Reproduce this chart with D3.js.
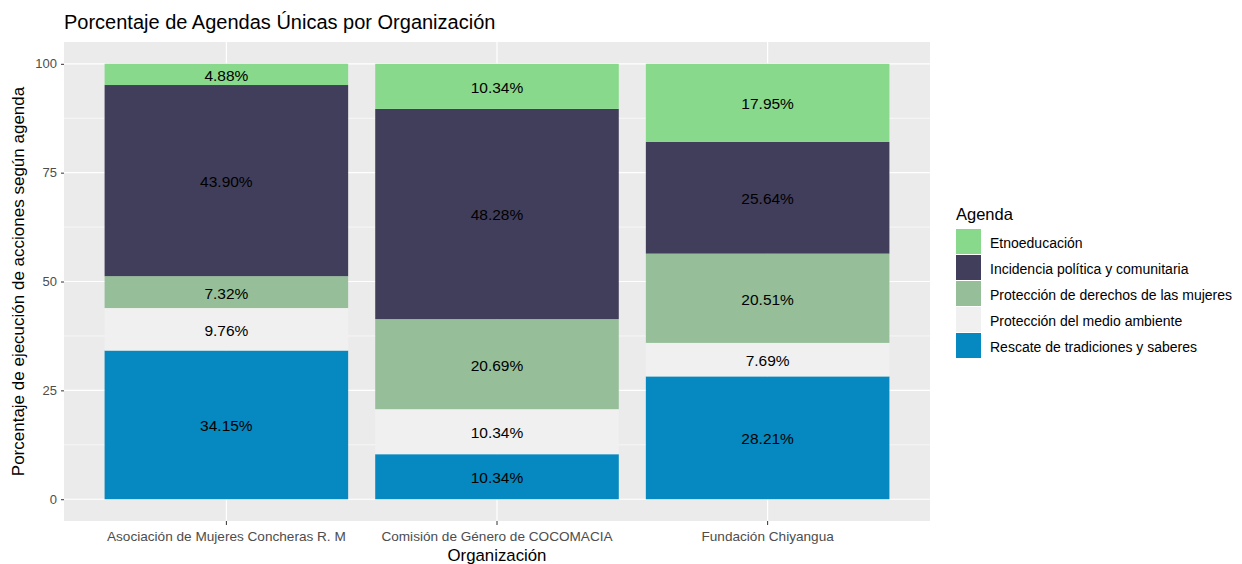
<!DOCTYPE html>
<html>
<head>
<meta charset="utf-8">
<script src="https://cdn.jsdelivr.net/npm/d3@7"></script>
<style>
  body { margin: 0; background: #fff; }
  svg { font-family: "Liberation Sans", Arial, sans-serif; }
</style>
</head>
<body>
<svg id="chart"></svg>
<script>
// data
const organizaciones = [
  "Asociación de Mujeres Concheras R. M",
  "Comisión de Género de COCOMACIA",
  "Fundación Chiyangua"
];
const agendas = [
  "Etnoeducación",
  "Incidencia política y comunitaria",
  "Protección de derechos de las mujeres",
  "Protección del medio ambiente",
  "Rescate de tradiciones y saberes"
];
const etnoeducacion = [4.88, 10.34, 17.95];
const incidencia = [43.90, 48.28, 25.64];
const derechos = [7.32, 20.69, 20.51];
const medioAmbiente = [9.76, 10.34, 7.69];
const rescate = [34.15, 10.34, 28.21];
const yTicks = [0, 25, 50, 75, 100];
const colores = ["#88d98b", "#413e5b", "#96bf99", "#f0f0f0", "#0589c0"];

const width = 1242, height = 564;
const panel = { left: 64, top: 42, right: 930, bottom: 521 };

const svg = d3.select("#chart").attr("width", width).attr("height", height);

// build rows for stacking
const rows = organizaciones.map((o, i) => ({
  org: o,
  [agendas[0]]: etnoeducacion[i],
  [agendas[1]]: incidencia[i],
  [agendas[2]]: derechos[i],
  [agendas[3]]: medioAmbiente[i],
  [agendas[4]]: rescate[i]
}));

// bottom first: Rescate, Medio, Derechos, Incidencia, Etno
const stackKeys = agendas.slice().reverse();
const series = d3.stack().keys(stackKeys)(rows);

const color = d3.scaleOrdinal().domain(agendas).range(colores);

// ggplot: bar width 0.9, 0.6 expansion on each side
const x = d3.scaleBand()
  .domain(organizaciones)
  .range([panel.left, panel.right])
  .paddingInner(0.1)
  .paddingOuter(0.15);

const ymax = d3.max(series[series.length - 1], d => d[1]);
const pad = ymax * 0.05;
const y = d3.scaleLinear()
  .domain([-pad, ymax + pad])
  .range([panel.bottom, panel.top]);

// panel background
svg.append("rect")
  .attr("x", panel.left).attr("y", panel.top)
  .attr("width", panel.right - panel.left)
  .attr("height", panel.bottom - panel.top)
  .attr("fill", "#ebebeb");

// minor grid
const minor = d3.range(12.5, 100, 25);
svg.append("g").selectAll("line").data(minor).join("line")
  .attr("x1", panel.left).attr("x2", panel.right)
  .attr("y1", d => y(d)).attr("y2", d => y(d))
  .attr("stroke", "#fff").attr("stroke-width", 0.6);

// major grid
svg.append("g").selectAll("line").data(yTicks).join("line")
  .attr("x1", panel.left).attr("x2", panel.right)
  .attr("y1", d => y(d)).attr("y2", d => y(d))
  .attr("stroke", "#fff").attr("stroke-width", 1.2);

svg.append("g").selectAll("line").data(organizaciones).join("line")
  .attr("x1", d => x(d) + x.bandwidth() / 2).attr("x2", d => x(d) + x.bandwidth() / 2)
  .attr("y1", panel.top).attr("y2", panel.bottom)
  .attr("stroke", "#fff").attr("stroke-width", 1.2);

// bars
const layers = svg.append("g").selectAll("g").data(series).join("g")
  .attr("fill", d => color(d.key));

layers.selectAll("rect").data(d => d).join("rect")
  .attr("x", d => x(d.data.org))
  .attr("width", x.bandwidth())
  .attr("y", d => y(d[1]))
  .attr("height", d => y(d[0]) - y(d[1]));

// segment labels
layers.selectAll("text").data(d => d).join("text")
  .attr("x", d => x(d.data.org) + x.bandwidth() / 2)
  .attr("y", d => y((d[0] + d[1]) / 2))
  .attr("dy", "0.42em")
  .attr("text-anchor", "middle")
  .attr("fill", "#000")
  .attr("font-size", 15.5)
  .text(d => (d[1] - d[0]).toFixed(2) + "%");

// y axis
const yAxis = svg.append("g")
  .attr("transform", `translate(${panel.left},0)`)
  .call(d3.axisLeft(y).tickValues(yTicks).tickSize(3).tickPadding(4));
yAxis.select(".domain").remove();
yAxis.selectAll("line").attr("stroke", "#333");
yAxis.selectAll("text").attr("fill", "#4d4d4d").attr("font-size", 13)
  .attr("font-family", "Liberation Sans, Arial, sans-serif");

// x axis
const xAxis = svg.append("g")
  .attr("transform", `translate(0,${panel.bottom})`)
  .call(d3.axisBottom(x).tickSize(4).tickPadding(6));
xAxis.select(".domain").remove();
xAxis.selectAll("line").attr("stroke", "#333");
xAxis.selectAll("text").attr("fill", "#4d4d4d").attr("font-size", 13.6)
  .attr("font-family", "Liberation Sans, Arial, sans-serif");

// titles
svg.append("text")
  .attr("x", panel.left).attr("y", 29)
  .attr("font-size", 20).attr("fill", "#000")
  .text("Porcentaje de Agendas Únicas por Organización");

svg.append("text")
  .attr("x", (panel.left + panel.right) / 2).attr("y", 561)
  .attr("text-anchor", "middle")
  .attr("font-size", 16.8).attr("fill", "#000")
  .text("Organización");

svg.append("text")
  .attr("transform", `translate(24,${(panel.top + panel.bottom) / 2}) rotate(-90)`)
  .attr("text-anchor", "middle")
  .attr("font-size", 17).attr("fill", "#000")
  .text("Porcentaje de ejecución de acciones según agenda");

// legend
const legend = svg.append("g").attr("transform", "translate(956,0)");
legend.append("text")
  .attr("x", 0).attr("y", 220)
  .attr("font-size", 16.5).attr("fill", "#000")
  .text("Agenda");

const item = legend.selectAll("g.item").data(agendas).join("g")
  .attr("class", "item")
  .attr("transform", (d, i) => `translate(0,${229 + i * 26})`);
item.append("rect")
  .attr("width", 25).attr("height", 25)
  .attr("fill", d => color(d));
item.append("text")
  .attr("x", 34).attr("y", 14).attr("dy", "0.38em")
  .attr("font-size", 14).attr("fill", "#000")
  .text(d => d);
</script>
</body>
</html>
